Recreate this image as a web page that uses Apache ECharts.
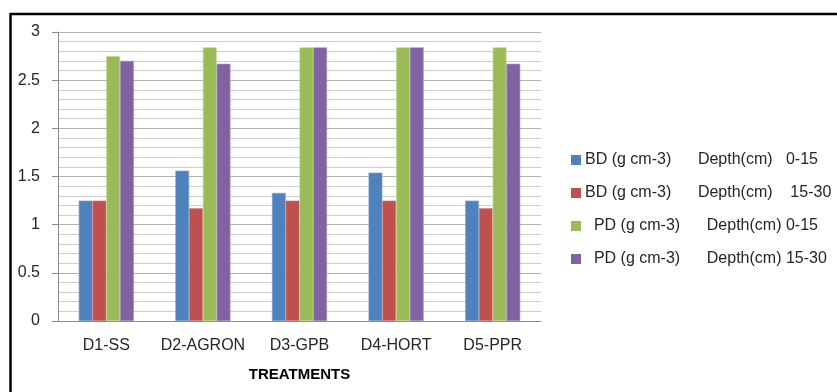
<!DOCTYPE html>
<html>
<head>
<meta charset="utf-8">
<script src="https://cdn.jsdelivr.net/npm/echarts@6/dist/echarts.min.js"></script>
<style>
  html, body { margin: 0; padding: 0; background: #fff; }
  #chart { width: 837px; height: 392px; }
</style>
</head>
<body>
<div id="chart"></div>
<script>
// Treatments along the x axis
const treatments = ['D1-SS', 'D2-AGRON', 'D3-GPB', 'D4-HORT', 'D5-PPR'];

// Series names (legend labels)
const seriesNames = [
  'BD (g cm-3)      Depth(cm)   0-15',
  'BD (g cm-3)      Depth(cm)    15-30',
  '  PD (g cm-3)      Depth(cm) 0-15',
  '  PD (g cm-3)      Depth(cm) 15-30'
];

// Bulk density and particle density values per treatment
const bd0_15  = [1.25, 1.56, 1.33, 1.54, 1.25];
const bd15_30 = [1.25, 1.17, 1.25, 1.25, 1.17];
const pd0_15  = [2.75, 2.84, 2.84, 2.84, 2.84];
const pd15_30 = [2.70, 2.67, 2.84, 2.84, 2.67];

const seriesValues = [bd0_15, bd15_30, pd0_15, pd15_30];
const colors = ['#4f81bd', '#c0504d', '#9bbb59', '#8064a2'];
const edgeColors = ['#7ea3d6', '#d67e7c', '#bcd68c', '#a48ec2'];

const FONT = 'Liberation Sans';

const chart = echarts.init(document.getElementById('chart'));

chart.setOption({
  animation: false,
  backgroundColor: '#ffffff',
  textStyle: { fontFamily: FONT },
  grid: { left: 58, top: 32, right: 296, bottom: 71, containLabel: false },
  legend: {
    orient: 'vertical',
    left: 566,
    top: 147,
    itemWidth: 10,
    itemHeight: 10,
    itemGap: 17,
    icon: 'rect',
    itemStyle: { borderWidth: 0 },
    textStyle: { fontFamily: FONT, fontSize: 16, color: '#262626', padding: [0, 0, 0, -1] },
    data: seriesNames
  },
  xAxis: {
    type: 'category',
    data: treatments,
    name: 'TREATMENTS',
    nameLocation: 'middle',
    nameGap: 46,
    nameTextStyle: { fontFamily: FONT, fontSize: 15, fontWeight: 'bold', color: '#000' },
    axisLine: { lineStyle: { color: '#8c8c8c', width: 1 } },
    axisTick: { show: false },
    axisLabel: { interval: 0, margin: 17, fontSize: 16, color: '#262626' }
  },
  yAxis: {
    type: 'value',
    min: 0,
    max: 3,
    interval: 0.5,
    axisLine: { show: true, lineStyle: { color: '#8c8c8c', width: 1 } },
    axisTick: { show: true, length: 6, lineStyle: { color: '#8c8c8c' } },
    axisLabel: { margin: 18, fontSize: 16, color: '#262626' },
    splitLine: { show: true, lineStyle: { color: '#b3b3b3', width: 1 } },
    minorSplitLine: { show: true, lineStyle: { color: '#cccccc', width: 1 } },
    minorTick: { show: false, splitNumber: 5 }
  },
  series: seriesValues.map((vals, i) => ({
    name: seriesNames[i],
    type: 'bar',
    data: vals,
    barGap: '0%',
    barCategoryGap: '43%',
    itemStyle: { color: colors[i], borderColor: edgeColors[i], borderWidth: 0.6 }
  })),
  graphic: [
    // chart frame: top and left edges
    { type: 'line', shape: { x1: 10, y1: 14, x2: 837, y2: 14 }, style: { stroke: '#000', lineWidth: 2.5 }, silent: true },
    { type: 'line', shape: { x1: 10.5, y1: 13, x2: 10.5, y2: 392 }, style: { stroke: '#000', lineWidth: 2.5 }, silent: true }
  ]
});
</script>
</body>
</html>
